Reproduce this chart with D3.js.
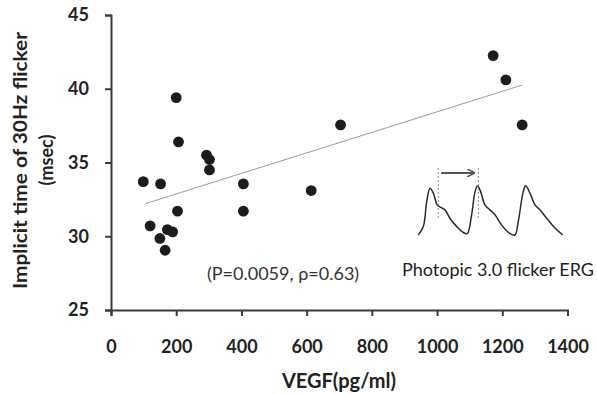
<!DOCTYPE html>
<html>
<head>
<meta charset="utf-8">
<script src="https://cdn.jsdelivr.net/npm/d3@7"></script>
<style>
  body { margin: 0; background: #fff; }
  svg { display: block; font-family: Lato, "Open Sans", sans-serif; }
</style>
</head>
<body>
<div id="chart"></div>
<script>
// VEGF (pg/ml) vs implicit time of 30Hz flicker (msec)
var vegf     = [99, 152, 120, 150, 166, 173, 189, 200, 207, 204, 293, 302, 302, 406, 406, 614, 704, 1172, 1211, 1261];
var implicit = [33.7, 33.55, 30.7, 29.85, 29.05, 30.45, 30.3, 39.4, 36.4, 31.7, 35.5, 35.2, 34.5, 33.55, 31.7, 33.1, 37.55, 42.25, 40.6, 37.55];

// regression line end points
var trendX = [104, 1261];
var trendY = [32.2, 40.25];

var xTicks = [0, 200, 400, 600, 800, 1000, 1200, 1400];
var yTicks = [25, 30, 35, 40, 45];

// inset: photopic 3.0 flicker ERG trace (time ms, relative amplitude)
var ergTime = [0, 3.5, 5.9, 8.2, 10.5, 13.3, 16.4, 18.7, 22.1, 26.9, 31.5, 34.3, 37.3, 39.7, 41.5, 43.6, 46.6, 50.1, 53.6, 58.3, 64.1, 67.6, 69.9, 73.4, 75.1, 78.1, 81.6, 85.1, 89.8, 95.6, 101];
var ergAmp  = [0, 17, 68, 95, 85, 61, 55, 51, 34, 17, 5, 3, 41, 88, 100, 88, 61, 51, 41, 20, 3, 0, 27, 88, 100, 85, 61, 51, 34, 14, 0];
var ergMarks = [14, 42];        // implicit time markers
var ergArrow = [16, 38.5];

var width = 597, height = 394;

var svg = d3.select("#chart").append("svg")
    .attr("width", width)
    .attr("height", height);

svg.append("rect").attr("width", width).attr("height", height).attr("fill", "#fff");

var x = d3.scaleLinear().domain([0, 1400]).range([111, 567.5]);
var y = d3.scaleLinear().domain([25, 45]).range([310, 15]);

// axes
var xAxis = d3.axisBottom(x).tickValues(xTicks).tickFormat(d3.format("d")).tickSize(6).tickPadding(24);
var yAxis = d3.axisLeft(y).tickValues(yTicks).tickFormat(d3.format("d")).tickSize(6).tickPadding(16);

var gx = svg.append("g").attr("transform", "translate(0," + y(25) + ")").call(xAxis);
var gy = svg.append("g").attr("transform", "translate(" + x(0) + ",0)").call(yAxis);

[gx, gy].forEach(function (g) {
    g.select(".domain").attr("stroke", "#3a3a3a").attr("stroke-width", 2);
    g.selectAll(".tick line").attr("stroke", "#3a3a3a").attr("stroke-width", 2);
    g.selectAll(".tick text")
        .attr("fill", "#222")
        .style("font-family", "Lato, sans-serif")
        .style("font-size", "18px")
        .style("font-weight", "bold");
});

// trend line
svg.append("line")
    .attr("x1", x(trendX[0])).attr("y1", y(trendY[0]))
    .attr("x2", x(trendX[1])).attr("y2", y(trendY[1]))
    .attr("stroke", "#9a9a9a")
    .attr("stroke-width", 1);

// points
svg.selectAll("circle.pt").data(d3.range(vegf.length))
    .enter().append("circle")
    .attr("class", "pt")
    .attr("cx", function (i) { return x(vegf[i]); })
    .attr("cy", function (i) { return y(implicit[i]); })
    .attr("r", 5.4)
    .attr("fill", "#1c1c1c");

// axis titles
svg.append("text")
    .attr("x", 339).attr("y", 388)
    .attr("text-anchor", "middle")
    .attr("fill", "#222")
    .style("font-size", "20px").style("font-weight", "bold")
    .text("VEGF(pg/ml)");

svg.append("text")
    .attr("transform", "translate(27,160.5) rotate(-90)")
    .attr("text-anchor", "middle")
    .attr("fill", "#222")
    .style("font-size", "18px").style("font-weight", "bold")
    .attr("textLength", 257)
    .attr("lengthAdjust", "spacingAndGlyphs")
    .text("Implicit time of 30Hz flicker");
svg.append("text")
    .attr("transform", "translate(52.5,160) rotate(-90)")
    .attr("text-anchor", "middle")
    .attr("fill", "#222")
    .style("font-size", "18px").style("font-weight", "bold")
    .text("(msec)");

// statistics
svg.append("text")
    .attr("x", 207).attr("y", 280)
    .attr("fill", "#333")
    .style("font-size", "18px")
    .text("(P=0.0059, \u03c1=0.63)");

// inset ERG
var ex = d3.scaleLinear().domain([0, 101]).range([418.3, 562.7]);
var ey = d3.scaleLinear().domain([0, 100]).range([235, 185.7]);

var ergLine = d3.line()
    .x(function (i) { return ex(ergTime[i]); })
    .y(function (i) { return ey(ergAmp[i]); })
    .curve(d3.curveCatmullRom);

svg.append("path")
    .attr("d", ergLine(d3.range(ergTime.length)))
    .attr("fill", "none")
    .attr("stroke", "#2a2a2a")
    .attr("stroke-width", 1.5);

svg.selectAll("line.mark").data(ergMarks)
    .enter().append("line")
    .attr("class", "mark")
    .attr("x1", function (d) { return ex(d); }).attr("x2", function (d) { return ex(d); })
    .attr("y1", ey(136)).attr("y2", ey(35))
    .attr("stroke", "#888")
    .attr("stroke-width", 1)
    .attr("stroke-dasharray", "2,2");

svg.append("defs").append("marker")
    .attr("id", "head")
    .attr("viewBox", "0 0 10 10")
    .attr("refX", 8).attr("refY", 5)
    .attr("markerWidth", 4).attr("markerHeight", 4)
    .attr("orient", "auto")
    .append("path")
    .attr("d", "M0,0 L10,5 L0,10")
    .attr("fill", "none")
    .attr("stroke", "#555")
    .attr("stroke-width", 2);

svg.append("line")
    .attr("x1", ex(ergArrow[0])).attr("y1", ey(126))
    .attr("x2", ex(ergArrow[1])).attr("y2", ey(126))
    .attr("stroke", "#555")
    .attr("stroke-width", 2)
    .attr("marker-end", "url(#head)");

svg.append("text")
    .attr("x", 402).attr("y", 276)
    .attr("fill", "#222")
    .style("font-size", "18px")
    .text("Photopic 3.0 flicker ERG");
</script>
</body>
</html>
